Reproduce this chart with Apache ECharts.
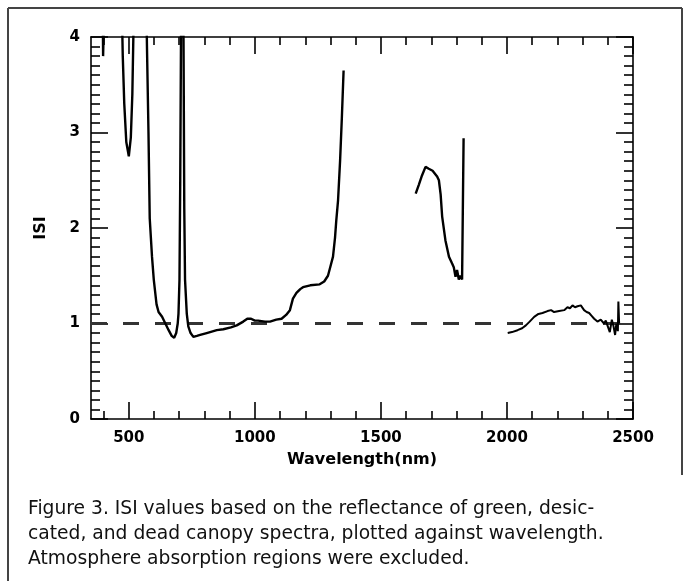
<!DOCTYPE html>
<html>
<head>
<meta charset="utf-8">
<script src="https://cdn.jsdelivr.net/npm/echarts@6/dist/echarts.min.js"></script>
<style>
html,body{margin:0;padding:0;background:#fff;}
#chart{width:689px;height:581px;}
</style>
</head>
<body>
<div id="chart"></div>
<script>
// ---- data ----
const seg1Wl = [396, 398, 402, 404, 470, 476, 482, 490, 500, 508, 514, 518, 522, 568, 572, 578, 583, 592, 599, 610, 618, 632, 645, 658, 670, 680, 688, 694, 697, 701, 704, 707, 712, 717, 720, 723, 730, 736, 745, 756, 770, 783, 809, 849, 875, 905, 928, 954, 970, 985, 1000, 1013, 1040, 1060, 1085, 1106, 1124, 1139, 1151, 1165, 1180, 1191, 1220, 1257, 1275, 1290, 1300, 1310, 1318, 1323, 1330, 1338, 1345, 1352];
const seg1Isi = [4.5, 3.8, 3.79, 4.5, 4.6, 3.8, 3.3, 2.9, 2.75, 2.95, 3.4, 4.0, 4.6, 4.6, 3.9, 3.0, 2.1, 1.7, 1.46, 1.2, 1.12, 1.07, 1.0, 0.93, 0.87, 0.85, 0.9, 1.0, 1.1, 1.46, 2.5, 4.0, 4.6, 4.0, 2.2, 1.46, 1.1, 0.97, 0.9, 0.86, 0.87, 0.88, 0.90, 0.93, 0.94, 0.96, 0.98, 1.02, 1.05, 1.05, 1.03, 1.03, 1.02, 1.02, 1.04, 1.05, 1.09, 1.14, 1.26, 1.32, 1.36, 1.38, 1.40, 1.41, 1.44, 1.5, 1.6, 1.70, 1.9, 2.08, 2.29, 2.7, 3.15, 3.65];
const seg2Wl = [1638, 1650, 1663, 1677, 1690, 1705, 1723, 1730, 1737, 1743, 1756, 1770, 1782, 1789, 1796, 1802, 1809, 1815, 1822, 1827, 1828];
const seg2Isi = [2.36, 2.45, 2.55, 2.64, 2.62, 2.60, 2.54, 2.50, 2.35, 2.12, 1.87, 1.70, 1.63, 1.59, 1.49, 1.56, 1.46, 1.50, 1.46, 1.45, 2.94];
const seg3Wl = [2003, 2020, 2042, 2060, 2075, 2090, 2108, 2125, 2141, 2161, 2175, 2187, 2207, 2227, 2240, 2250, 2260, 2270, 2280, 2293, 2306, 2316, 2326, 2336, 2346, 2359, 2372, 2385, 2392, 2399, 2408, 2416, 2422, 2429, 2434, 2440, 2442, 2445];
const seg3Isi = [0.90, 0.91, 0.93, 0.95, 0.98, 1.02, 1.07, 1.10, 1.11, 1.13, 1.14, 1.12, 1.13, 1.14, 1.17, 1.16, 1.19, 1.17, 1.18, 1.19, 1.14, 1.12, 1.11, 1.08, 1.05, 1.02, 1.04, 1.00, 1.03, 1.02, 0.91, 1.04, 0.98, 0.88, 1.00, 0.92, 1.23, 1.0];
const refWl = [350, 2500];
const refIsi = [1, 1];
const xMajorTicks = [500, 1000, 1500, 2000, 2500];
const xMinorTicks = [400, 600, 700, 800, 900, 1100, 1200, 1300, 1400, 1600, 1700, 1800, 1900, 2100, 2200, 2300, 2400];
const xRange = [350, 2500];
const yRange = [0, 4];
const xName = 'Wavelength(nm)';
const yName = 'ISI';
const captionLines = [
  'Figure 3. ISI values based on the reflectance of green, desic-',
  'cated, and dead canopy spectra, plotted against wavelength.',
  'Atmosphere absorption regions were excluded.'
];

const zip = (a, b) => a.map((v, i) => [v, b[i]]);
const FONT = 'DejaVu Sans';
const gridRect = { left: 91, right: 56, top: 37, bottom: 162 };
const tickStyle = { color: '#000', width: 1.6 };
const axLine = { show: true, onZero: false, lineStyle: { color: '#000', width: 1.6 } };
const noLine = { show: false, onZero: false };
const plain = v => String(v);

const chart = echarts.init(document.getElementById('chart'), null, { renderer: 'canvas' });
chart.setOption({
  backgroundColor: '#fff',
  animation: false,
  grid: [
    Object.assign({}, gridRect),
    Object.assign({}, gridRect)
  ],
  xAxis: [
    { gridIndex: 0, type: 'value', position: 'bottom', min: xRange[0], max: xRange[1],
      axisLine: axLine, splitLine: { show: false },
      axisTick: { show: true, inside: true, length: 17, customValues: xMajorTicks, lineStyle: tickStyle },
      axisLabel: { customValues: xMajorTicks, formatter: plain, margin: 12, color: '#000', fontFamily: FONT, fontWeight: 'bold', fontSize: 15 },
      name: xName, nameLocation: 'middle', nameGap: 33,
      nameTextStyle: { color: '#000', fontFamily: FONT, fontWeight: 'bold', fontSize: 16 } },
    { gridIndex: 0, type: 'value', position: 'top', min: xRange[0], max: xRange[1],
      axisLine: axLine, splitLine: { show: false },
      axisTick: { show: true, inside: true, length: 17, customValues: xMajorTicks, lineStyle: tickStyle },
      axisLabel: { show: false } },
    { gridIndex: 1, type: 'value', position: 'bottom', min: xRange[0], max: xRange[1],
      axisLine: noLine, splitLine: { show: false },
      axisTick: { show: true, inside: true, length: 8, customValues: xMinorTicks, lineStyle: tickStyle },
      axisLabel: { show: false } },
    { gridIndex: 1, type: 'value', position: 'top', min: xRange[0], max: xRange[1],
      axisLine: noLine, splitLine: { show: false },
      axisTick: { show: true, inside: true, length: 8, customValues: xMinorTicks, lineStyle: tickStyle },
      axisLabel: { show: false } }
  ],
  yAxis: [
    { gridIndex: 0, type: 'value', position: 'left', min: yRange[0], max: yRange[1], interval: 1,
      axisLine: axLine, splitLine: { show: false },
      axisTick: { show: true, inside: true, length: 17, lineStyle: tickStyle },
      minorTick: { show: true, splitNumber: 10, length: 9, lineStyle: tickStyle },
      minorSplitLine: { show: false },
      axisLabel: { margin: 11, color: '#000', fontFamily: FONT, fontWeight: 'bold', fontSize: 15 },
      name: yName, nameLocation: 'middle', nameGap: 42, nameRotate: 90,
      nameTextStyle: { color: '#000', fontFamily: FONT, fontWeight: 'bold', fontSize: 16 } },
    { gridIndex: 0, type: 'value', position: 'right', min: yRange[0], max: yRange[1], interval: 1,
      axisLine: axLine, splitLine: { show: false },
      axisTick: { show: true, inside: true, length: 17, lineStyle: tickStyle },
      minorTick: { show: true, splitNumber: 10, length: 9, lineStyle: tickStyle },
      minorSplitLine: { show: false },
      axisLabel: { show: false } },
    { gridIndex: 1, type: 'value', min: yRange[0], max: yRange[1], show: false, axisLine: noLine }
  ],
  series: [
    { type: 'line', xAxisIndex: 0, yAxisIndex: 0, data: zip(refWl, refIsi), symbol: 'none', silent: true,
      lineStyle: { color: '#333', width: 3, type: [16, 16] }, z: 2 },
    { type: 'line', xAxisIndex: 0, yAxisIndex: 0, data: zip(seg1Wl, seg1Isi), symbol: 'none', clip: true,
      lineStyle: { color: '#000', width: 2.4 }, z: 3 },
    { type: 'line', xAxisIndex: 0, yAxisIndex: 0, data: zip(seg2Wl, seg2Isi), symbol: 'none', clip: true,
      lineStyle: { color: '#000', width: 2.4 }, z: 3 },
    { type: 'line', xAxisIndex: 0, yAxisIndex: 0, data: zip(seg3Wl, seg3Isi), symbol: 'none', clip: true,
      lineStyle: { color: '#000', width: 2.0 }, z: 3 }
  ],
  graphic: [
    { type: 'line', shape: { x1: 8, y1: 8, x2: 682, y2: 8 }, style: { stroke: '#444', lineWidth: 2 } },
    { type: 'line', shape: { x1: 8, y1: 8, x2: 8, y2: 581 }, style: { stroke: '#444', lineWidth: 2 } },
    { type: 'line', shape: { x1: 682, y1: 8, x2: 682, y2: 475 }, style: { stroke: '#444', lineWidth: 2 } },
    { type: 'text', left: 28, top: 497,
      style: { text: captionLines.join('\n'), fill: '#111', font: '18.7px "DejaVu Sans"', lineHeight: 25 } }
  ]
});
</script>
</body>
</html>
